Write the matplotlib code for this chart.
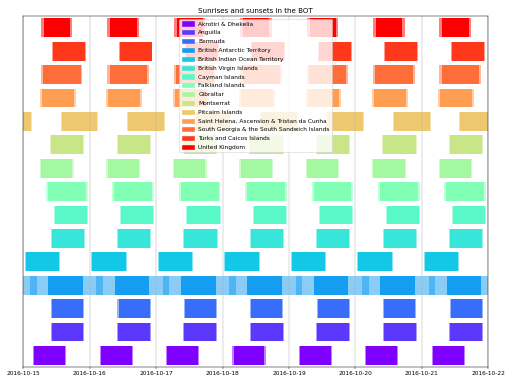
import matplotlib
matplotlib.use('Agg')
import matplotlib.pyplot as plt
import matplotlib.dates as mdates
import matplotlib.patches as mpatches
import datetime as dt
import numpy as np

territories = [
    "Akrotiri & Dhekelia", "Anguilla", "Bermuda", "British Antarctic Territory",
    "British Indian Ocean Territory", "British Virgin Islands", "Cayman Islands",
    "Falkland Islands", "Gibraltar", "Montserrat", "Pitcairn Islands",
    "Saint Helena, Ascension & Tristan da Cunha",
    "South Georgia & the South Sandwich Islands", "Turks and Caicos Islands",
    "United Kingdom",
]
# fractions of a UTC day
dawn    = [0.148, 0.410, 0.418, 0.100, 0.026, 0.410, 0.455, 0.340, 0.252, 0.405, 0.564, 0.250, 0.265, 0.435, 0.265]
sunrise = [0.165, 0.425, 0.435, 0.375, 0.040, 0.425, 0.470, 0.370, 0.270, 0.420, 0.580, 0.280, 0.300, 0.450, 0.310]
sunset  = [0.630, 0.905, 0.900, 0.895, 0.545, 0.910, 0.955, 0.940, 0.740, 0.905, 1.115, 0.760, 0.865, 0.930, 0.705]
dusk    = [0.647, 0.920, 0.917, 1.200, 0.559, 0.925, 0.970, 0.968, 0.758, 0.920, 1.131, 0.790, 0.890, 0.945, 0.740]

days = [dt.datetime(2016, 10, 14) + dt.timedelta(days=i) for i in range(9)]
xlim_dates = [dt.datetime(2016, 10, 15), dt.datetime(2016, 10, 22)]

colors = plt.cm.rainbow(np.linspace(0, 1, len(territories)))

fig = plt.figure(figsize=(12, 9), dpi=512 / 12)
ax = fig.add_axes([0.0455, 0.044, 0.9082, 0.914])

handles = []
for i, name in enumerate(territories):
    tw = []
    dl = []
    for d in days:
        base = mdates.date2num(d)
        tw.append((base + dawn[i], dusk[i] - dawn[i]))
        dl.append((base + sunrise[i], sunset[i] - sunrise[i]))
    ax.broken_barh(tw, (i + 0.1, 0.8), facecolors=colors[i], alpha=0.5)
    ax.broken_barh(dl, (i + 0.1, 0.8), facecolors=colors[i])
    handles.append(mpatches.Patch(color=colors[i], label=name))

ax.set_xlim(mdates.date2num(xlim_dates[0]), mdates.date2num(xlim_dates[1]))
ax.set_ylim(0, len(territories))
ax.xaxis.set_major_locator(mdates.DayLocator())
ax.xaxis.set_major_formatter(mdates.DateFormatter('%Y-%m-%d'))
ax.set_yticks([])
ax.grid(True, axis='x')
ax.set_title("Sunrises and sunsets in the BOT")
ax.legend(handles=handles, loc='upper center', labelspacing=0.62)

fig.savefig('out.png', dpi=512 / 12)
